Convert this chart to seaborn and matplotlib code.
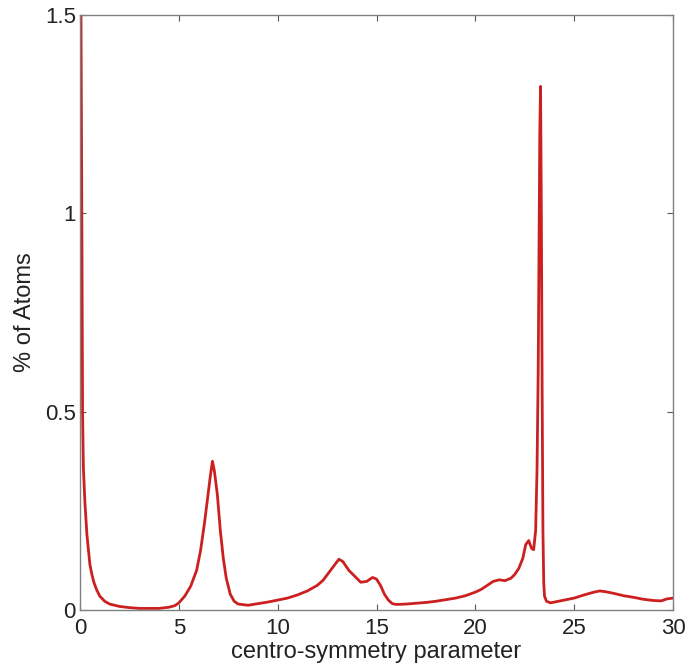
import matplotlib
matplotlib.use("Agg")
import matplotlib.pyplot as plt
import seaborn as sns
import pandas as pd

# Distribution of the centro-symmetry parameter (percent of atoms per bin)
csp = [0.0, 0.05, 0.1, 0.13, 0.17, 0.25, 0.35, 0.5, 0.6, 0.7, 0.85, 1.0, 1.25,
       1.5, 2.0, 2.5, 3.0, 3.5, 4.0, 4.5, 4.8, 5.0, 5.3, 5.6, 5.9, 6.1, 6.3, 6.45, 6.6,
       6.7, 6.8, 6.95, 7.1, 7.25, 7.4, 7.6, 7.8, 8.0, 8.5, 9.0, 9.5, 10.0, 10.5, 11.0,
       11.5, 12.0, 12.3, 12.6, 12.9, 13.1, 13.3, 13.6, 13.9, 14.2, 14.5, 14.8, 15.0,
       15.2, 15.4, 15.6, 15.8, 16.0, 16.5, 17.0, 17.5, 18.0, 18.5, 19.0, 19.5, 20.0,
       20.3, 20.6, 20.9, 21.2, 21.5, 21.8, 22.0, 22.2, 22.4, 22.55, 22.7, 22.85, 22.95,
       23.05, 23.12, 23.18, 23.22, 23.26, 23.3, 23.34, 23.38, 23.42, 23.46, 23.5,
       23.6, 23.8, 24.0, 24.5, 25.0, 25.5, 26.0, 26.3, 26.6, 27.0, 27.5, 28.0, 28.5,
       29.0, 29.4, 29.7, 30.0]
pct = [1.7, 1.5, 0.9, 0.5, 0.36, 0.27, 0.19, 0.115, 0.09, 0.07, 0.05, 0.035, 0.022,
       0.015, 0.009, 0.006, 0.004, 0.004, 0.004, 0.007, 0.011, 0.018,
       0.035, 0.06, 0.1, 0.15, 0.22, 0.28, 0.34, 0.375, 0.35, 0.29, 0.2, 0.13, 0.08,
       0.04, 0.022, 0.015, 0.012, 0.016, 0.02, 0.025, 0.03, 0.038, 0.048, 0.062, 0.075,
       0.095, 0.115, 0.128, 0.122, 0.1, 0.085, 0.07, 0.072, 0.082, 0.078, 0.062, 0.04,
       0.025, 0.016, 0.014, 0.015, 0.017, 0.019, 0.022, 0.026, 0.03, 0.036, 0.045,
       0.052, 0.062, 0.072, 0.076, 0.074, 0.08, 0.09, 0.105, 0.13, 0.165, 0.175,
       0.155, 0.152, 0.2, 0.35, 0.6, 0.9, 1.2, 1.32, 1.0, 0.55, 0.2, 0.07, 0.035,
       0.022, 0.018, 0.02, 0.025, 0.03, 0.038, 0.045, 0.048, 0.046, 0.042, 0.036,
       0.032, 0.027, 0.024, 0.023, 0.028, 0.03]

x_ticks = [0, 5, 10, 15, 20, 25, 30]
y_ticks = [0, 0.5, 1, 1.5]
y_tick_labels = ["0", "0.5", "1", "1.5"]

sns.set_theme(style="white")
plt.rcParams["font.family"] = ["Liberation Sans", "DejaVu Sans"]

df = pd.DataFrame({"csp": csp, "pct": pct})

fig = plt.figure(figsize=(6.88, 6.69), dpi=100)
ax = fig.add_axes([80 / 688, 1 - 610 / 669, 593 / 688, 595 / 669])
sns.lineplot(data=df, x="csp", y="pct", ax=ax, color="#cc2020", linewidth=2.0)

ax.set_xlim(0, 30)
ax.set_ylim(0, 1.5)
ax.set_xticks(x_ticks)
ax.set_xticklabels([str(t) for t in x_ticks])
ax.set_yticks(y_ticks)
ax.set_yticklabels(y_tick_labels)
ax.tick_params(direction="in", length=4, width=0.8, color="#555555",
               labelsize=16, top=True, right=True, bottom=True, left=True,
               pad=3, labelcolor="#222222")
ax.tick_params(axis="x", pad=6)
for s in ax.spines.values():
    s.set_color("#808080")
    s.set_linewidth(1.0)

ax.set_xlabel("centro-symmetry parameter", fontsize=17, color="#222222", labelpad=1)
ax.set_ylabel("% of Atoms", fontsize=17, color="#222222", labelpad=6)

fig.savefig("out.png", dpi=100)
